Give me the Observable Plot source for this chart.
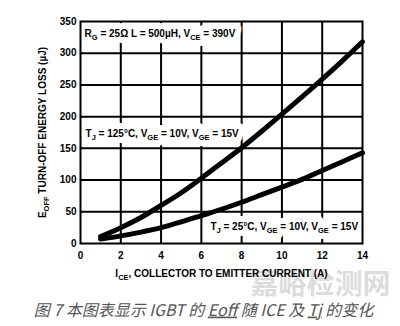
<!DOCTYPE html>
<html>
<head>
<meta charset="utf-8">
<script src="https://cdn.jsdelivr.net/npm/d3@7"></script>
<script src="https://cdn.jsdelivr.net/npm/@observablehq/plot@0.6"></script>
<style>
  html, body { margin: 0; padding: 0; background: #fff; }
  #chart svg { display: block; }
</style>
</head>
<body>
<div id="chart"></div>
<script>
// ---- data ----
const current = [1, 2, 3, 4, 5, 6, 7, 8, 9, 10, 11, 12, 13, 14];           // I_CE (A)
const eoffTj125 = [11, 25, 41, 60, 80, 103, 127, 151, 177, 204, 231, 259, 288, 318]; // µJ
const eoffTj25  = [7, 12, 18, 25, 34, 44, 54, 65, 77, 89, 101, 115, 129, 143];       // µJ
const xTicks = [0, 2, 4, 6, 8, 10, 12, 14];
const yTicks = [0, 50, 100, 150, 200, 250, 300, 350];
const xGrid = [2, 4, 6, 8, 10, 12];
const yGrid = [50, 100, 150, 200, 250, 300];
const xLabel = "I_{CE}, COLLECTOR TO EMITTER CURRENT (A)";
const yLabel = "E_{OFF} TURN-OFF ENERGY LOSS (µJ)";
const noteTop = "R_{G} = 25Ω L = 500µH, V_{CE} = 390V";
const note125 = "T_{J} = 125°C, V_{GE} = 10V, V_{GE} = 15V";
const note25 = "T_{J} = 25°C, V_{GE} = 10V, V_{GE} = 15V";
const caption = "图 7 本图表显示 IGBT 的 ~{Eoff} 随 ICE 及 ~{Tj} 的变化";
const watermark = "嘉峪检测网";

const rows125 = current.map((c, i) => ({c, e: eoffTj125[i]}));
const rows25 = current.map((c, i) => ({c, e: eoffTj25[i]}));

const font = "'Liberation Sans', Arial, sans-serif";
const noteText = {textAnchor: "start", fontSize: 10, fontWeight: "bold", fontFamily: font};
const halo = {...noteText, fill: "white", stroke: "white", strokeWidth: 12};
const ink = {...noteText, fill: "black"};
const notes = [
  {t: noteTop, x: 0.2, y: 330},
  {t: note125, x: 0.25, y: 173},
  {t: note25, x: 6.45, y: 26}
];

const chart = Plot.plot({
  width: 400,
  height: 326,
  marginLeft: 80,
  marginRight: 38,
  marginTop: 21,
  marginBottom: 83,
  style: {fontFamily: font, fontWeight: "bold", fontSize: "10px", color: "black", background: "white"},
  x: {domain: [0, 14], ticks: xTicks, tickSize: 0, tickPadding: 8, label: null},
  y: {domain: [0, 350], ticks: yTicks, tickSize: 0, tickPadding: 4, label: null},
  marks: [
    Plot.text([watermark], {frameAnchor: "bottom-right", dx: 28, dy: 42, textAnchor: "end", lineAnchor: "middle",
      fontSize: 28, fontWeight: "bold", fontFamily: "'Noto Sans CJK SC', sans-serif", fill: "#dcdcdc"}),
    Plot.ruleX(xGrid, {stroke: "black", strokeWidth: 2}),
    Plot.ruleY(yGrid, {stroke: "black", strokeWidth: 2}),
    Plot.text(notes, {x: "x", y: "y", text: "t", ...halo}),
    Plot.frame({stroke: "black", strokeWidth: 2}),
    Plot.text(notes, {x: "x", y: "y", text: "t", ...ink}),
    Plot.line(rows125, {x: "c", y: "e", curve: "monotone-x", stroke: "black", strokeWidth: 5, strokeLinecap: "round"}),
    Plot.line(rows25, {x: "c", y: "e", curve: "monotone-x", stroke: "black", strokeWidth: 5, strokeLinecap: "round"}),
    Plot.text([xLabel], {frameAnchor: "bottom", dy: 30, textAnchor: "middle", lineAnchor: "middle",
      fontSize: 10, fontWeight: "bold", fontFamily: font}),
    Plot.text([yLabel], {frameAnchor: "left", dx: -38, rotate: -90, textAnchor: "middle", lineAnchor: "middle",
      fontSize: 10, fontWeight: "bold", fontFamily: font}),
    Plot.text([caption], {frameAnchor: "bottom", dx: -18, dy: 67, textAnchor: "middle", lineAnchor: "middle",
      fontSize: 16, fontWeight: "normal", fontStyle: "italic", fontFamily: "'Noto Sans CJK SC', sans-serif", fill: "#555"})
  ]
});

// subscripts and wavy underlines inside text
const NS = "http://www.w3.org/2000/svg";
for (const t of chart.querySelectorAll("text")) {
  const s = t.textContent;
  if (!/[_~]\{/.test(s)) continue;
  t.textContent = "";
  const parts = s.split(/([_~]\{[^}]*\})/);
  let shifted = false;
  for (const p of parts) {
    if (!p) continue;
    const ts = document.createElementNS(NS, "tspan");
    if (p.startsWith("_{")) {
      ts.textContent = p.slice(2, -1);
      ts.setAttribute("font-size", "7.5");
      if (!shifted) ts.setAttribute("dy", "3");
      shifted = true;
    } else if (p.startsWith("~{")) {
      ts.textContent = p.slice(2, -1);
      ts.setAttribute("style", "text-decoration: underline wavy #c44;");
    } else {
      ts.textContent = p;
      if (shifted) { ts.setAttribute("dy", "-3"); shifted = false; }
    }
    t.appendChild(ts);
  }
}

document.getElementById("chart").appendChild(chart);
</script>
</body>
</html>
